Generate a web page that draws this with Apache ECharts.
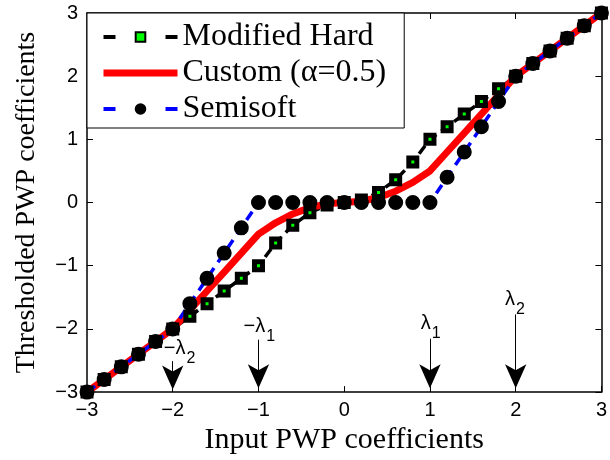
<!DOCTYPE html>
<html>
<head>
<meta charset="utf-8">
<script src="https://cdn.jsdelivr.net/npm/echarts@6/dist/echarts.min.js"></script>
<style>
  html, body { margin: 0; padding: 0; background: #fff; }
  #chart { width: 610px; height: 460px; }
</style>
</head>
<body>
<div id="chart"></div>
<script>
// input coefficients (x grid)
var xs = [-3, -2.8, -2.6, -2.4, -2.2, -2, -1.8, -1.6, -1.4, -1.2, -1, -0.8, -0.6, -0.4, -0.2, 0,
  0.2, 0.4, 0.6, 0.8, 1, 1.2, 1.4, 1.6, 1.8, 2, 2.2, 2.4, 2.6, 2.8, 3]
// thresholded outputs
var hardVals = [-3, -2.8, -2.6, -2.4, -2.2, -2, -1.8, -1.6, -1.4, -1.2, -1, -0.64, -0.36, -0.16, -0.04, 0,
  0.04, 0.16, 0.36, 0.64, 1, 1.2, 1.4, 1.6, 1.8, 2, 2.2, 2.4, 2.6, 2.8, 3]
var customVals = [-3, -2.8, -2.6, -2.4, -2.2, -2, -1.7, -1.4, -1.1, -0.8, -0.5, -0.32, -0.18, -0.08, -0.02, 0,
  0.02, 0.08, 0.18, 0.32, 0.5, 0.8, 1.1, 1.4, 1.7, 2, 2.2, 2.4, 2.6, 2.8, 3]
var semisoftVals = [-3, -2.8, -2.6, -2.4, -2.2, -2, -1.6, -1.2, -0.8, -0.4, 0, 0, 0, 0, 0, 0,
  0, 0, 0, 0, 0, 0.4, 0.8, 1.2, 1.6, 2, 2.2, 2.4, 2.6, 2.8, 3]
var seriesNames = ['Modified Hard', 'Custom (α=0.5)', 'Semisoft']

// threshold annotations: label text, label point, arrow x / start y / tip y
var lambdaNames = ['−λ2', '−λ1', 'λ1', 'λ2']
var lambdaLabelPos = [[-1.92, -2.31], [-0.99, -1.96], [1.01, -1.92], [1.99, -1.54]]
var arrowX = [-2, -1, 1, 2]
var arrowFrom = [-2.51, -2.17, -2.155, -1.77]
var arrowTo = [-2.96, -2.94, -2.94, -2.94]

function pairs(ys) {
  return xs.map(function (x, i) { return [x, ys[i]] })
}
function tickFmt(v) {
  return v < 0 ? '−' + Math.abs(v) : String(v)
}

var serif = '"Liberation Serif", "Times New Roman", serif'
var sans = '"Liberation Sans", Arial, sans-serif'

var chart = echarts.init(document.getElementById('chart'))

var frameX = {
  type: 'value', min: -3, max: 3, interval: 1,
  axisLine: { show: true, onZero: false, lineStyle: { color: '#000', width: 1.5 } },
  axisTick: { show: true, inside: true, length: 6, lineStyle: { color: '#000', width: 1 } },
  splitLine: { show: false }
}
var frameY = {
  type: 'value', min: -3, max: 3, interval: 1,
  axisLine: { show: true, onZero: false, lineStyle: { color: '#000', width: 1.5 } },
  axisTick: { show: true, inside: true, length: 6, lineStyle: { color: '#000', width: 1 } },
  splitLine: { show: false }
}

var option = {
  animation: false,
  backgroundColor: '#fff',
  grid: { left: 87, right: 2, top: 13, bottom: 60 },
  legend: {
    left: 87, top: 13, orient: 'vertical',
    backgroundColor: '#fff', borderColor: '#000', borderWidth: 1,
    padding: [8, 18, 3, 13],
    itemWidth: 74, itemHeight: 12, itemGap: 4,
    textStyle: { fontFamily: serif, fontSize: 32, color: '#000', lineHeight: 32 },
    data: [
      { name: seriesNames[0], lineStyle: { width: 4, type: [12, 50] } },
      { name: seriesNames[1], lineStyle: { width: 7 }, itemStyle: { opacity: 0 } },
      { name: seriesNames[2], lineStyle: { width: 4, type: [12, 50] } }
    ]
  },
  xAxis: [
    Object.assign({}, frameX, {
      position: 'bottom',
      name: 'Input PWP coefficients', nameLocation: 'middle', nameGap: 21,
      nameTextStyle: { fontFamily: serif, fontSize: 30, color: '#000' },
      axisLabel: { fontFamily: sans, fontSize: 20, color: '#000', margin: 8, formatter: tickFmt }
    }),
    Object.assign({}, frameX, { position: 'top', axisLabel: { show: false } })
  ],
  yAxis: [
    Object.assign({}, frameY, {
      position: 'left',
      name: 'Thresholded PWP coefficients', nameLocation: 'middle', nameGap: 46,
      nameTextStyle: { fontFamily: serif, fontSize: 28, color: '#000' },
      axisLabel: { fontFamily: sans, fontSize: 20, color: '#000', margin: 9, formatter: tickFmt }
    }),
    Object.assign({}, frameY, { position: 'right', axisLabel: { show: false } })
  ],
  series: [
    {
      name: seriesNames[0], type: 'line', data: pairs(hardVals), clip: false,
      symbol: 'rect', symbolSize: 8,
      lineStyle: { color: '#000', width: 3.5, type: [10, 6] },
      itemStyle: { color: '#00ff00', borderColor: '#000', borderWidth: 5 }
    },
    {
      name: seriesNames[1], type: 'line', data: pairs(customVals), clip: false,
      symbol: 'none', showSymbol: false,
      lineStyle: { color: '#ff0000', width: 7 },
      itemStyle: { color: '#ff0000' }
    },
    {
      name: seriesNames[2], type: 'line', data: pairs(semisoftVals), clip: false,
      symbol: 'circle', symbolSize: 13,
      lineStyle: { color: '#0000ff', width: 3.5, type: [10, 7] },
      itemStyle: { color: '#000', borderColor: '#000', borderWidth: 2 }
    },
    {
      name: 'annotations', type: 'scatter', symbolSize: 0, silent: true, z: 5,
      itemStyle: { color: '#000', opacity: 1 },
      data: lambdaLabelPos.map(function (p, i) {
        var t = lambdaNames[i]
        return {
          value: p,
          label: {
            show: true, position: 'inside', color: '#000', opacity: 1, textBorderWidth: 0,
            formatter: '{a|' + t.slice(0, -1) + '}{b|' + t.slice(-1) + '}',
            rich: {
              a: { fontFamily: sans, fontSize: 20, color: '#000', lineHeight: 20, verticalAlign: 'top' },
              b: { fontFamily: sans, fontSize: 16, color: '#000', lineHeight: 16, verticalAlign: 'top', padding: [12, 0, 0, 1] }
            }
          }
        }
      }),
      markLine: {
        silent: true, animation: false,
        symbol: ['none', 'arrow'], symbolSize: [16, 24],
        label: { show: false },
        lineStyle: { color: '#000', width: 1, type: 'solid', opacity: 1 },
        itemStyle: { color: '#000', opacity: 1 },
        data: arrowX.map(function (x, i) {
          return [{ coord: [x, arrowFrom[i]] }, { coord: [x, arrowTo[i]] }]
        })
      }
    }
  ]
}

chart.setOption(option)
</script>
</body>
</html>
